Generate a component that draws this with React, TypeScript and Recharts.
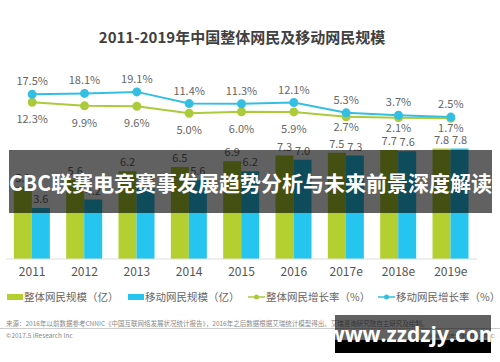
import React from 'react';
import {
  ComposedChart,
  Bar,
  Line,
  XAxis,
  YAxis,
  LabelList,
} from 'recharts';

const years = ['2011', '2012', '2013', '2014', '2015', '2016', '2017e', '2018e', '2019e'];
const totalUsers = [5.1, 5.6, 6.2, 6.5, 6.9, 7.3, 7.5, 7.7, 7.8];
const mobileUsers = [3.6, 4.2, 5.0, 5.6, 6.2, 7.0, 7.3, 7.6, 7.8];
const totalGrowth = [12.3, 9.9, 9.6, 5.0, 6.0, 5.9, 2.7, 2.1, 1.7];
const mobileGrowth = [17.5, 18.1, 19.1, 11.4, 11.3, 12.1, 5.3, 3.7, 2.5];

const data = years.map((year, i) => ({
  year,
  total: totalUsers[i],
  mobile: mobileUsers[i],
  totalRate: totalGrowth[i],
  mobileRate: mobileGrowth[i],
}));

const GREEN = '#b3cf30';
const BLUE = '#25c5f0';
const GREEN_LINE = '#abcb3a';
const BLUE_LINE = '#34bfe2';
const FONT = '"Noto Sans CJK SC", "Noto Sans", sans-serif';

const rateLabel = (dy: number, dyLate: number) => (props: any) => {
  const { x, y, value, index } = props;
  // forecast years sit tighter so the labels clear the bar values
  const off = index >= 6 ? dyLate : dy;
  return (
    <text x={x} y={y + off} textAnchor="middle" dominantBaseline="central" fontSize={11} fill="#666">
      {value.toFixed(1)}%
    </text>
  );
};

// legend entries, left edge in px
const legendItems = [
  { label: '整体网民规模（亿）', color: GREEN, kind: 'bar', left: 7 },
  { label: '移动网民规模（亿）', color: BLUE, kind: 'bar', left: 128 },
  { label: '整体网民增长率（%）', color: GREEN_LINE, kind: 'line', left: 248 },
  { label: '移动网民增长率（%）', color: BLUE_LINE, kind: 'line', left: 378 },
];

export default function App() {
  return (
    <div style={{ position: 'absolute', left: 0, top: 0, width: 500, height: 362, background: '#fff', fontFamily: FONT, overflow: 'hidden' }}>
      <div style={{ position: 'absolute', left: 0, width: 484, top: 26, textAlign: 'center', fontSize: 15, fontWeight: 'bold', color: '#404040' }}>
        2011-2019年中国整体网民及移动网民规模
      </div>

      <div style={{ position: 'absolute', left: 0, top: 0 }}>
        <ComposedChart
          width={500}
          height={362}
          data={data}
          margin={{ top: 89, right: 23, left: 6, bottom: 0 }}
          barCategoryGap="15%"
          barGap={0}
        >
          <XAxis
            dataKey="year"
            tickLine={false}
            axisLine={{ stroke: '#ddd' }}
            tick={{ fontSize: 12, fill: '#555', fontFamily: FONT }}
            height={103}
          />
          <YAxis yAxisId="bar" hide domain={[0, 12]} />
          <YAxis yAxisId="rate" hide domain={[-91, 21]} orientation="right" />
          <Bar yAxisId="bar" dataKey="total" fill={GREEN} isAnimationActive={false}>
            <LabelList dataKey="total" position="top" fontSize={11} fill="#666" formatter={(v: any) => Number(v).toFixed(1)} />
          </Bar>
          <Bar yAxisId="bar" dataKey="mobile" fill={BLUE} isAnimationActive={false}>
            <LabelList dataKey="mobile" position="top" fontSize={11} fill="#666" formatter={(v: any) => Number(v).toFixed(1)} />
          </Bar>
          <Line
            yAxisId="rate"
            dataKey="totalRate"
            stroke={GREEN_LINE}
            strokeWidth={2}
            dot={{ r: 3.5, fill: GREEN_LINE, stroke: GREEN_LINE }}
            isAnimationActive={false}
          >
            <LabelList dataKey="totalRate" content={rateLabel(16, 9)} />
          </Line>
          <Line
            yAxisId="rate"
            dataKey="mobileRate"
            stroke={BLUE_LINE}
            strokeWidth={2}
            dot={{ r: 3.5, fill: BLUE_LINE, stroke: BLUE_LINE }}
            isAnimationActive={false}
          >
            <LabelList dataKey="mobileRate" content={rateLabel(-14, -14)} />
          </Line>
        </ComposedChart>
      </div>

      {legendItems.map((item, i) => (
        <div
          key={i}
          style={{ position: 'absolute', left: item.left, top: 289, display: 'flex', alignItems: 'center', fontSize: 10.5, color: '#666', whiteSpace: 'nowrap' }}
        >
          {item.kind === 'bar' ? (
            <div style={{ width: 16, height: 6, background: item.color, marginRight: 1 }} />
          ) : (
            <svg width={17} height={8} style={{ marginRight: 1 }}>
              <line x1={0} y1={4} x2={17} y2={4} stroke={item.color} strokeWidth={1.5} />
              <circle cx={8.5} cy={4} r={2.5} fill={item.color} />
            </svg>
          )}
          <span>{item.label}</span>
        </div>
      ))}

      <div style={{ position: 'absolute', left: 6, top: 318, fontSize: 6.5, color: '#888', whiteSpace: 'nowrap' }}>
        来源：2016年以前数据参考CNNIC《中国互联网络发展状况统计报告》，2016年之后数据根据艾瑞统计模型得出。艾瑞咨询研究院自主研究及绘制。
      </div>
      <div style={{ position: 'absolute', left: 0, right: 0, top: 328, height: 1, background: '#ccc' }} />
      <div style={{ position: 'absolute', left: 6, top: 330, fontSize: 6.5, color: '#888', whiteSpace: 'nowrap' }}>
        ©2017.5 iResearch Inc
      </div>
      <div style={{ position: 'absolute', right: 2, top: 330, fontSize: 6.5, color: '#888', whiteSpace: 'nowrap' }}>
        www.iresearch.com.cn
      </div>

      <div
        style={{
          position: 'absolute',
          left: 9,
          top: 150,
          width: 483,
          height: 63,
          background: 'rgba(0,0,0,0.62)',
          color: '#fff',
          fontWeight: 'bold',
          fontSize: 21,
          display: 'flex',
          alignItems: 'center',
          justifyContent: 'center',
          whiteSpace: 'nowrap',
        }}
      >
        CBC联赛电竞赛事发展趋势分析与未来前景深度解读
      </div>

      <div
        style={{
          position: 'absolute',
          left: 335,
          top: 315,
          width: 156,
          height: 38,
          background: 'linear-gradient(to bottom, rgba(0,0,0,0.62) 0%, rgba(0,0,0,0.62) 66%, #000 66%)',
          color: '#fff',
          fontWeight: 'bold',
          fontSize: 21,
          fontFamily: '"Open Sans", "DejaVu Sans", sans-serif',
          display: 'flex',
          alignItems: 'center',
          justifyContent: 'center',
        }}
      >
        www.zzdzjy.com
      </div>
    </div>
  );
}
